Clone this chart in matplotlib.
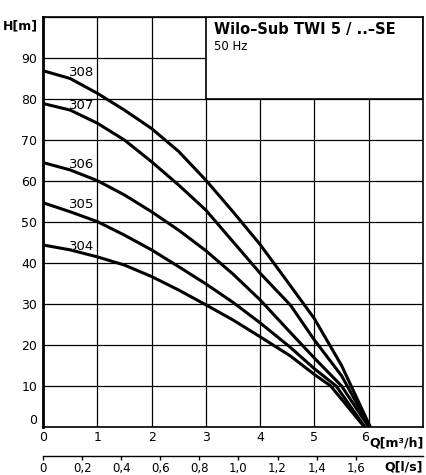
import matplotlib
matplotlib.use('Agg')
import matplotlib.pyplot as plt
from matplotlib.patches import Rectangle

# pump curves: Q [m3/h], H [m]
q_308 = [0, 0.5, 1, 1.5, 2, 2.5, 3, 3.5, 4, 4.5, 5, 5.5, 6.03]
h_308 = [86.9, 85.0, 81.4, 77.3, 72.8, 67.2, 60.2, 52.5, 44.5, 35.5, 26.4, 15.0, 0]
q_307 = [0, 0.5, 1, 1.5, 2, 2.5, 3, 3.5, 4, 4.56, 5, 5.5, 6.02]
h_307 = [78.9, 77.3, 74.1, 70.0, 64.7, 59.0, 52.9, 45.2, 37.5, 29.7, 21.2, 12.5, 0]
q_306 = [0, 0.5, 1, 1.5, 2, 2.5, 3, 3.5, 4, 4.56, 5, 5.5, 6.0]
h_306 = [64.5, 62.7, 60.1, 56.6, 52.5, 48.0, 43.0, 37.3, 31.0, 23.0, 16.8, 10.0, 0]
q_305 = [0, 0.5, 1, 1.5, 2, 2.5, 3, 3.5, 4, 4.55, 5, 5.4, 5.93]
h_305 = [54.7, 52.5, 50.1, 46.8, 43.2, 39.1, 34.9, 30.4, 25.4, 19.5, 14.2, 10.0, 0]
q_304 = [0, 0.5, 1, 1.5, 2, 2.5, 3, 3.5, 4, 4.56, 5, 5.3, 5.92]
h_304 = [44.4, 43.2, 41.5, 39.5, 36.7, 33.4, 29.8, 26.1, 22.0, 17.3, 12.8, 10.0, 0]

curve_names = ['308', '307', '306', '305', '304']
curve_q = [q_308, q_307, q_306, q_305, q_304]
curve_h = [h_308, h_307, h_306, h_305, h_304]

q_ticks = [0, 1, 2, 3, 4, 5, 6]
h_ticks = [0, 10, 20, 30, 40, 50, 60, 70, 80, 90]
ls_ticks = [0, 0.2, 0.4, 0.6, 0.8, 1.0, 1.2, 1.4, 1.6]
ls_labels = ['0', '0,2', '0,4', '0,6', '0,8', '1,0', '1,2', '1,4', '1,6']

title = 'Wilo–Sub TWI 5 / ..–SE'
subtitle = '50 Hz'

plt.rcParams['font.family'] = 'DejaVu Sans'

fig = plt.figure(figsize=(4.27, 4.75), dpi=100)
ax = fig.add_axes([43/427, 48/475, 380/427, 410/475])
ax.set_xlim(0, 7)
ax.set_ylim(0, 100)

# grid
ax.set_axisbelow(True)
ax.set_xticks(q_ticks)
ax.set_yticks(h_ticks + [100])
ax.grid(True, color='black', lw=0.9)
ax.set_yticklabels([str(v) for v in h_ticks] + [''])
ax.set_xticklabels([str(v) for v in q_ticks])
ax.tick_params(axis='both', length=0, labelsize=9, colors='black')
ax.tick_params(axis='x', pad=3)
ax.tick_params(axis='y', pad=4)
ax.get_xticklabels()[-1].set_ha('right')
ax.get_yticklabels()[0].set_va('bottom')

for s in ax.spines.values():
    s.set_linewidth(1.2)
ax.spines['left'].set_linewidth(2.0)

# title box
ax.add_patch(Rectangle((3, 80), 4, 20, facecolor='white', edgecolor='black',
                       lw=1.2, zorder=1))
ax.text(3.15, 97, title, fontsize=10.5, fontweight='bold', va='center', ha='left', zorder=3)
ax.text(3.15, 92.7, subtitle, fontsize=8.5, va='center', ha='left', zorder=3)

# curves
for name, q, h in zip(curve_names, curve_q, curve_h):
    ax.plot(q, h, color='black', lw=2.2, solid_joinstyle='round',
            solid_capstyle='butt', zorder=2)
    ax.text(0.48, h[0] - 1.3, name, fontsize=9.5, ha='left', va='baseline', zorder=3)

# axis titles
ax.text(-0.012, 0.995, 'H[m]', transform=ax.transAxes, fontsize=9, fontweight='bold',
        ha='right', va='top')
ax.text(6.02, -2.2, 'Q[m³/h]', fontsize=9, fontweight='bold', ha='left', va='top')

# l/s axis
sec = ax.secondary_xaxis(-29/410, functions=(lambda x: x/3.6, lambda x: x*3.6))
sec.set_xticks(ls_ticks)
sec.set_xticklabels(ls_labels)
sec.tick_params(axis='x', length=3, width=1.0, direction='out', labelsize=8.5, pad=1)
sec.spines['bottom'].set_linewidth(1.0)
ax.text(1.0, -0.097, 'Q[l/s]', transform=ax.transAxes, fontsize=9, fontweight='bold',
        ha='right', va='center')

fig.savefig('out.png', dpi=100, facecolor='white')
